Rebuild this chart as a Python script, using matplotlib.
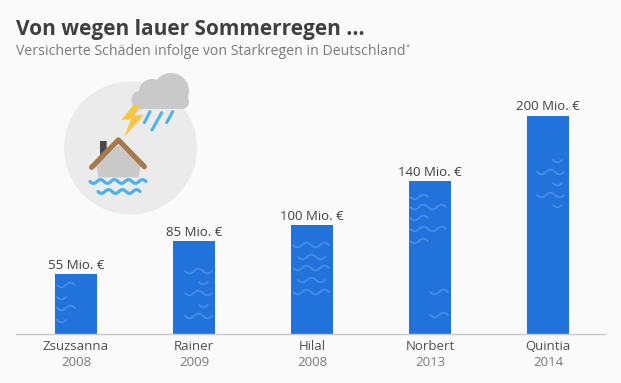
# -*- coding: utf-8 -*-
import matplotlib
matplotlib.use("Agg")
import matplotlib.pyplot as plt
from matplotlib.path import Path
from matplotlib.patches import Circle, PathPatch, Polygon, Rectangle

# -----------------------------
# DATOS
# -----------------------------
names = ["Zsuzsanna", "Rainer", "Hilal", "Norbert", "Quintia"]
years = ["2008", "2009", "2008", "2013", "2014"]
damage = [55, 85, 100, 140, 200]
value_labels = ["55 Mio. €", "85 Mio. €", "100 Mio. €", "140 Mio. €", "200 Mio. €"]

title = "Von wegen lauer Sommerregen ..."
subtitle = "Versicherte Schäden infolge von Starkregen in Deutschland"

BG = "#FAFAFA"
BAR = "#2272DC"
WAVE_BAR = "#488CE5"
DARK = "#404040"
GREY = "#7A7A7A"
W, H = 621, 383

plt.rcParams["font.family"] = ["Open Sans", "DejaVu Sans"]

fig = plt.figure(figsize=(W / 100, H / 100), dpi=100, facecolor=BG)

# -----------------------------
# BARRAS
# -----------------------------
ax = fig.add_axes([16 / W, (H - 334) / H, (605 - 16) / W, 300 / H])
ax.set_facecolor("none")
ax.bar(range(len(damage)), damage, width=42 / 118, color=BAR, zorder=2)
ax.set_xlim((16 - 76) / 118, (605 - 76) / 118)
ax.set_ylim(0, 300 / 1.09)
for side in ["top", "left", "right"]:
    ax.spines[side].set_visible(False)
ax.spines["bottom"].set_color("#C8C8C8")
ax.spines["bottom"].set_linewidth(1)
ax.set_yticks([])
ax.set_xticks(range(len(names)))
ax.set_xticklabels(names, fontsize=9.5, color="#505050")
ax.tick_params(axis="x", length=0, pad=4)

for i, (val, lab) in enumerate(zip(damage, value_labels)):
    ax.annotate(lab, (i, val), xytext=(0, 1.8), textcoords="offset points",
                ha="center", va="bottom", fontsize=9.5, color=DARK)
    ax.annotate(years[i], (i, 0), xytext=(0, -25), textcoords="offset points",
                ha="center", va="bottom", fontsize=9.5, color=GREY)

# -----------------------------
# CAPA DE DIBUJO EN PIXELES (icono y olas)
# -----------------------------
ov = fig.add_axes([0, 0, 1, 1], zorder=5)
ov.set_xlim(0, W)
ov.set_ylim(H, 0)
ov.axis("off")


def wave(x0, x1, y, period, amp, color, lw):
    # ola hecha con curvas de bezier
    verts = [(x0, y)]
    codes = [Path.MOVETO]
    x = x0
    sign = 1
    step = period / 2
    while x + step <= x1 + 0.01:
        verts += [(x + step / 2, y + sign * amp * 2), (x + step, y)]
        codes += [Path.CURVE3, Path.CURVE3]
        x += step
        sign = -sign
    ov.add_patch(PathPatch(Path(verts, codes), fill=False, edgecolor=color,
                           linewidth=lw, capstyle="round"))


# olas de las barras: x inicial, x final, y
bar_waves = [
    (57, 82, 285), (57, 66, 297), (57, 82, 308), (57, 66, 320),
    (185, 212, 271), (199, 213, 282), (185, 212, 293), (199, 213, 305), (185, 212, 316),
    (293, 329, 245), (298, 332, 257), (293, 329, 268), (298, 332, 280), (293, 329, 292),
    (410, 428, 197), (410, 446, 207), (410, 428, 218), (410, 446, 229), (410, 428, 241),
    (430, 451, 292), (446, 451, 303), (430, 451, 315), (446, 451, 327),
    (553, 569, 160), (537, 569, 172), (553, 569, 183), (537, 569, 195), (553, 569, 205),
]
for x0, x1, y in bar_waves:
    wave(x0, x1, y, 18, 2.4, WAVE_BAR, 1.3)


def zp(pts):
    return [(50 + a / 3, 60 + b / 3) for a, b in pts]


ov.add_patch(Circle((130.5, 148), 66.5, color="#EBEBEB", lw=0))

# nube
CLOUD = "#C9C9C9"
ov.add_patch(Circle((171, 91), 18, color=CLOUD, lw=0))
ov.add_patch(Circle((152, 92), 13, color=CLOUD, lw=0))
ov.add_patch(Circle((141, 100), 9.5, color=CLOUD, lw=0))
ov.add_patch(Circle((182, 102), 7, color=CLOUD, lw=0))
ov.add_patch(Rectangle((141, 96), 41, 13.3, color=CLOUD, lw=0))

# rayo
ov.add_patch(Polygon(zp([(250, 135), (214, 180), (243, 178), (222, 232), (282, 165),
                         (253, 166), (274, 135)]), color="#F8C647", lw=0))

# lluvia
RAIN = "#4DB2EA"
for (a, b) in [((300, 155), (283, 188)), ((335, 158), (306, 210)), ((368, 155), (350, 188))]:
    p = zp([a, b])
    ov.plot([p[0][0], p[1][0]], [p[0][1], p[1][1]], color=RAIN, lw=2.2, solid_capstyle="round")

# casa
ov.add_patch(Polygon(zp([(150, 243), (170, 243), (170, 265), (150, 290)]), color="#4A4A4A", lw=0))
ov.add_patch(Polygon(zp([(205, 255), (272, 318), (265, 352), (145, 352), (140, 318)]),
                     color="#C9C9C9", lw=0))
roof = zp([(125, 322), (205, 240), (283, 320)])
ov.plot([p[0] for p in roof], [p[1] for p in roof], color="#A67A4B", lw=3.8,
        solid_capstyle="round", solid_joinstyle="round")

# agua
wave(90, 147, 181.5, 14, 1.9, RAIN, 2.3)
wave(98, 140, 191.5, 14, 1.9, RAIN, 2.3)

# -----------------------------
# TITULOS
# -----------------------------
ov.text(16, 34.5, title, fontsize=15.0, fontweight="bold", color=DARK, va="baseline")
sub = ov.text(16, 55, subtitle, fontsize=10.15, color=GREY, va="baseline")
fig.canvas.draw()
bb = sub.get_window_extent()
ov.text(bb.x1 + 0.5, 49, "*", fontsize=5.5, color=GREY, va="baseline")

fig.savefig("out.png", dpi=100, facecolor=BG)
